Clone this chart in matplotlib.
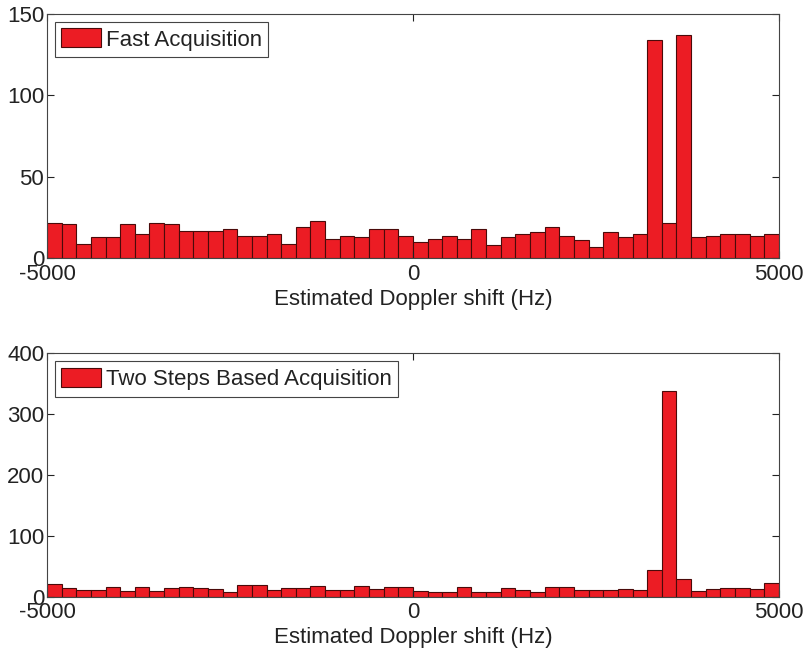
import numpy as np
import matplotlib.pyplot as plt
from matplotlib.patches import Patch

plt.rcParams['font.family'] = ['Liberation Sans', 'DejaVu Sans']
plt.rcParams['axes.unicode_minus'] = False

# Histogram bins: 50 bins of 200 Hz spanning -5000..5000 Hz
bin_edges = np.arange(-5000, 5001, 200)
bin_centers = (bin_edges[:-1] + bin_edges[1:]) / 2

fast_counts = [22, 21, 9, 13, 13, 21, 15, 22, 21, 17,
               17, 17, 18, 14, 14, 15, 9, 19, 23, 12,
               14, 13, 18, 18, 14, 10, 12, 14, 12, 18,
               8, 13, 15, 16, 19, 14, 11, 7, 16, 13,
               15, 134, 22, 137, 13, 14, 15, 15, 14, 15]

two_step_counts = [21, 15, 11, 11, 16, 9, 16, 9, 14, 16,
                   14, 13, 8, 19, 19, 11, 14, 15, 17, 11,
                   11, 17, 13, 16, 16, 9, 7, 7, 16, 8,
                   7, 15, 11, 8, 16, 16, 11, 11, 11, 13,
                   11, 44, 339, 29, 9, 13, 15, 15, 13, 22]

panels = [
    (fast_counts, 'Fast Acquisition', 150, [0, 50, 100, 150]),
    (two_step_counts, 'Two Steps Based Acquisition', 400, [0, 100, 200, 300, 400]),
]

bar_color = '#EC1C24'
edge_color = '#4a0a0a'
fs = 16

fig = plt.figure(figsize=(8.07, 6.54), dpi=100)
axes_rects = [
    [0.0582, 0.605, 0.907, 0.3735],
    [0.0582, 0.0876, 0.907, 0.372],
]

for rect, (counts, label, ymax, yticks) in zip(axes_rects, panels):
    ax = fig.add_axes(rect)
    ax.bar(bin_centers, counts, width=200, color=bar_color,
           edgecolor=edge_color, linewidth=0.8)
    ax.set_xlim(-5000, 5000)
    ax.set_ylim(0, ymax)
    ax.set_xticks([-5000, 0, 5000])
    ax.set_yticks(yticks)
    ax.tick_params(direction='in', length=5, width=0.8, labelsize=fs,
                   top=True, right=True, colors='#222222')
    ax.tick_params(axis='x', pad=4)
    ax.tick_params(axis='y', pad=2)
    ax.set_xlabel('Estimated Doppler shift (Hz)', fontsize=fs, labelpad=3,
                  color='#222222')
    for s in ax.spines.values():
        s.set_linewidth(0.8)
        s.set_color('#444444')
    leg = ax.legend(handles=[Patch(facecolor=bar_color, edgecolor=edge_color,
                                   linewidth=0.8, label=label)],
                    loc='upper left', fontsize=fs, fancybox=False,
                    framealpha=1, edgecolor='#444444', borderpad=0.3,
                    handlelength=1.8, handleheight=0.95, handletextpad=0.2,
                    borderaxespad=0.34)
    leg.get_frame().set_linewidth(0.8)
    for t in leg.get_texts():
        t.set_color('#222222')

fig.savefig('out.png', dpi=100)
